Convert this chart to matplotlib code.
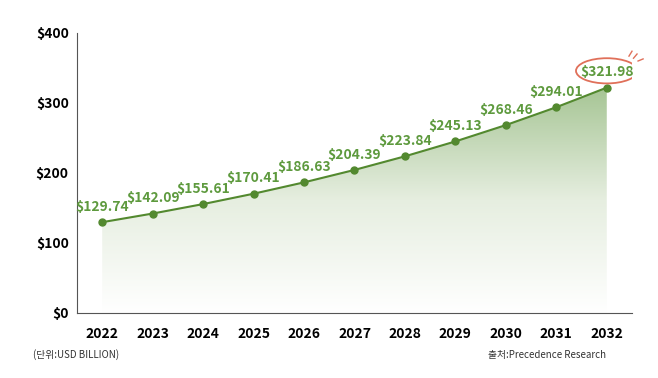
import numpy as np
import matplotlib
matplotlib.use("Agg")
import matplotlib.pyplot as plt
from matplotlib.patches import Ellipse, Polygon
from matplotlib.colors import LinearSegmentedColormap

plt.rcParams['font.family'] = ['Noto Sans CJK KR', 'DejaVu Sans']

years = [2022, 2023, 2024, 2025, 2026, 2027, 2028, 2029, 2030, 2031, 2032]
values = [129.74, 142.09, 155.61, 170.41, 186.63, 204.39, 223.84, 245.13, 268.46, 294.01, 321.98]
y_ticks = [0, 100, 200, 300, 400]

LINE_GREEN = "#53892f"
TEXT_GREEN = "#5e9a3e"
RED = "#e0705a"

fig = plt.figure(figsize=(6.58, 3.78), dpi=100)
ax = fig.add_axes([77 / 658, 1 - 313 / 378, 555 / 658, 280 / 378])

ax.set_xlim(2021.5, 2032.5)
ax.set_ylim(0, 400)

# gradient fill under the line, clipped to the area
grad = np.linspace(0, 1, 256).reshape(-1, 1)
cmap = LinearSegmentedColormap.from_list("g", ["#ffffff", "#e6eee0", "#a6c594"])
img = ax.imshow(grad, cmap=cmap, aspect="auto", origin="lower",
                extent=[years[0], years[-1], 0, max(values)], zorder=1)
poly = Polygon(list(zip(years, values)) + [(years[-1], 0), (years[0], 0)],
               closed=True, transform=ax.transData, facecolor="none", edgecolor="none")
ax.add_patch(poly)
img.set_clip_path(poly)

ax.plot(years, values, color=LINE_GREEN, lw=1.5, marker="o", ms=5, zorder=3)

for x, v in zip(years, values):
    ax.text(x, v + 12, f"${v:.2f}", ha="center", va="bottom",
            color=TEXT_GREEN, fontsize=10, fontweight="bold", zorder=4)

# highlight ellipse on last value
ax.add_patch(Ellipse((years[-1], values[-1] + 24), 1.22, 36, fill=False,
                     edgecolor=RED, lw=1.3, zorder=5))
for dx0, dy0, dx1, dy1 in [(0.44, 45, 0.50, 52), (0.53, 42, 0.60, 48), (0.62, 38, 0.72, 41)]:
    ax.plot([years[-1] + dx0, years[-1] + dx1], [values[-1] + dy0, values[-1] + dy1],
            color=RED, lw=1.0, zorder=5, clip_on=False)

ax.set_xticks(years)
ax.set_xticklabels([str(y) for y in years], fontsize=10, fontweight="bold")
ax.set_yticks(y_ticks)
ax.set_yticklabels([f"${t}" for t in y_ticks], fontsize=10, fontweight="bold")
ax.tick_params(length=0, pad=10)
ax.tick_params(axis="y", pad=6)

for s in ["top", "right"]:
    ax.spines[s].set_visible(False)
ax.spines["left"].set_color("#555555")
ax.spines["bottom"].set_color("#555555")

fig.text(33 / 658, 1 - 355 / 378, "(단위:USD BILLION)", fontsize=7, color="#333333", va="center")
fig.text(606 / 658, 1 - 355 / 378, "출처:Precedence Research", fontsize=7, color="#333333",
         va="center", ha="right")

fig.savefig("out.png", dpi=100)
